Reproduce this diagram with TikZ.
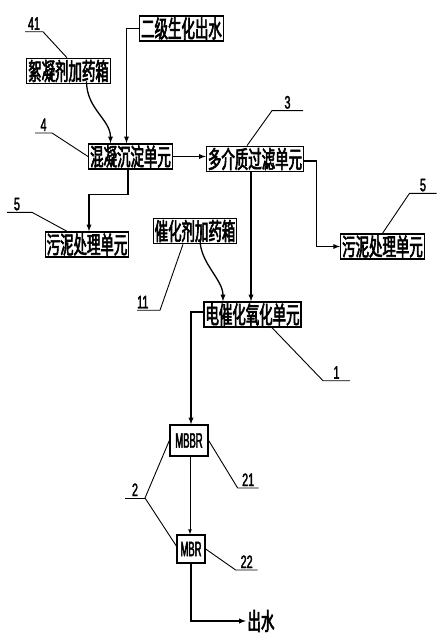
\documentclass[tikz,border=0pt]{standalone}
\usepackage{fontspec}
\newfontfamily\cjk[FakeStretch=0.56,FakeBold=2.5]{Noto Sans CJK SC}
\newfontfamily\digits[FakeStretch=0.6,FakeBold=2]{Liberation Sans}
\newfontfamily\narrow[FakeStretch=0.45,FakeBold=2]{Liberation Sans}
\usepackage{tikz}
\tikzset{>=latex}
\tikzstyle{unit}=[draw,line width=1.3pt,inner sep=1.5pt,font=\fontsize{24}{25}\selectfont\cjk]
\tikzstyle{reactor}=[draw,line width=1.3pt,inner sep=0pt,font=\fontsize{21}{22}\selectfont\narrow]
\tikzstyle{flow}=[->,line width=1.3pt]
\tikzstyle{lead}=[line width=0.9pt]
\tikzstyle{num}=[inner sep=1.5pt,font=\fontsize{18}{19}\selectfont\digits]

\begin{document}
\begin{tikzpicture}[x=1pt,y=-1pt]
  \useasboundingbox (0,0) rectangle (443,639);
  
  % UNITS
  \node[unit] (src)     at (181.5, 28.5) {二级生化出水};
  \node[unit] (floc)    at ( 68.5, 71  ) {絮凝剂加药箱};
  \node[unit] (coag)    at (130.5,156.5) {混凝沉淀单元};
  \node[unit] (filt)    at (255  ,159  ) {多介质过滤单元};
  \node[unit] (sludgeL) at ( 87  ,244.5) {污泥处理单元};
  \node[unit] (sludgeR) at (382.5,246.5) {污泥处理单元};
  \node[unit] (cat)     at (195  ,231  ) {催化剂加药箱};
  \node[unit] (eco)     at (252.5,314.5) {电催化氧化单元};
  \node[reactor,minimum width=38pt,minimum height=31pt] (mbbr) at (189,440.5) {MBBR};
  \node[reactor,minimum width=28pt,minimum height=28pt] (mbr)  at (191,549  ) {MBR};
  \node[unit,draw=none,inner sep=1pt] (out) at (261,621) {出水};
  
  % FLOWS
  \draw[flow] (src.west) -| ([xshift=-4pt]coag.north);
  \draw[flow] ([xshift=18pt,yshift=3pt]floc.south)
              .. controls +(0,28) and +(0,-24) .. ([xshift=-20pt]coag.north);
  \draw[flow] (coag.east) -- (coag.east -| filt.west);
  \draw[flow] ([xshift=-2.5pt]coag.south) -- ++(0,25) -| ([xshift=2pt]sludgeL.north);
  \draw[flow] ([yshift=-2pt]filt.east) -- ++(12,0) |- (sludgeR.west);
  \draw[flow] ([xshift=-4pt]filt.south) -- ([xshift=-4pt]filt.south |- eco.north);
  \draw[flow] ([xshift=5pt,yshift=5pt]cat.south)
              .. controls +(0,24) and +(0,-22) .. ([xshift=-29.5pt]eco.north);
  \draw[flow] ([yshift=2.5pt]eco.west) -| ([xshift=2pt]mbbr.north);
  \draw[->,line width=0.7pt] ([xshift=1pt]mbbr.south) -- ([xshift=1pt]mbbr.south |- mbr.north);
  \draw[flow] (mbr.south) |- (out.west);
  
  % LEADERS
  \draw[lead] ([xshift=-1.5pt]floc.north) -- ++(-24,-26) -- ++(-18,0) node[num,midway,above] {41};
  \draw[lead] (coag.west) -- ++(-36,-23.5) -- ++(-17,0) node[num,midway,above] {4};
  \draw[lead] ([xshift=-8pt]filt.north) -- ++(25,-35) -- ++(31,0) node[num,midway,above] {3};
  \draw[lead] (sludgeR.north) -- ++(27,-40) -- ++(27,0) node[num,midway,above] {5};
  \draw[lead] ([xshift=-20pt]sludgeL.north) -- ++(-35,-19) -- ++(-25,0) node[num,pos=0.6,above] {5};
  \draw[lead] ([xshift=-12pt]cat.south) -- ++(-23,66) -- ++(-23,0) node[num,pos=0.75,above] {11};
  \draw[lead] ([xshift=19.5pt]eco.south) -- ++(51,53) -- ++(27,0) node[num,midway,above] {1};
  \coordinate (k2) at (145,498);
  \draw[lead] (mbbr.west) -- (k2) -- ([yshift=3pt]mbr.west);
  \draw[lead] (k2) -- ++(-20,0) node[num,midway,above] {2};
  \draw[lead] (mbbr.east) -- ++(29,47.5) -- ++(21,0) node[num,midway,above] {21};
  \draw[lead] (mbr.east) -- ++(30,21) -- ++(22,0) node[num,midway,above] {22};
  
\end{tikzpicture}
\end{document}
